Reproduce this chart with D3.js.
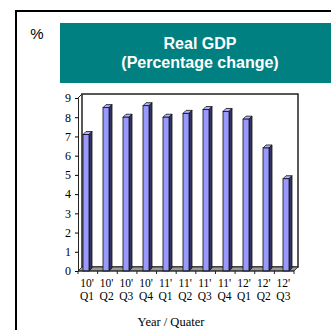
<!DOCTYPE html>
<meta charset="utf-8">
<style>
    body { margin: 0; background: #ffffff; }
    text.serif { font-family: "Liberation Serif", "Times New Roman", serif; fill: #000; }
    text.sans { font-family: "Liberation Sans", Arial, sans-serif; }
</style>
<body>
<div id="chart"></div>
<script src="https://d3js.org/d3.v7.min.js"></script>
<script>

    var years = ["10'", "10'", "10'", "10'", "11'", "11'", "11'", "11'", "12'", "12'", "12'"],
        quarters = ["Q1", "Q2", "Q3", "Q4", "Q1", "Q2", "Q3", "Q4", "Q1", "Q2", "Q3"],
        gdp = [7.1, 8.5, 8.0, 8.6, 8.0, 8.2, 8.4, 8.3, 7.9, 6.4, 4.8],
        yTicks = [0, 1, 2, 3, 4, 5, 6, 7, 8, 9];

    var svg_dx = 331, svg_dy = 330,
        depth = 4;

    var svg = d3.select("#chart")
                .append("svg")
                .attr("width", svg_dx)
                .attr("height", svg_dy);

    // outer frame (only top and left edges visible)
    svg.append("path")
       .attr("d", "M16,340 L16,11 L340,11")
       .attr("fill", "none")
       .attr("stroke", "#000")
       .attr("stroke-width", 2);

    svg.append("text")
       .attr("class", "sans")
       .attr("x", 37).attr("y", 39)
       .attr("text-anchor", "middle")
       .style("font-size", "15px")
       .text("%");

    // title banner
    svg.append("rect")
       .attr("x", 60).attr("y", 23)
       .attr("width", 280).attr("height", 60)
       .attr("fill", "#008080");

    svg.append("text")
       .attr("class", "sans")
       .attr("x", 200).attr("y", 49)
       .attr("text-anchor", "middle")
       .style("font-size", "16px").style("font-weight", "bold")
       .attr("fill", "#ffffff")
       .text("Real GDP");

    svg.append("text")
       .attr("class", "sans")
       .attr("x", 200).attr("y", 68)
       .attr("text-anchor", "middle")
       .style("font-size", "16px").style("font-weight", "bold")
       .attr("fill", "#ffffff")
       .text("(Percentage change)");

    var x = d3.scaleBand()
              .domain(d3.range(gdp.length))
              .range([78, 294])
              .paddingInner(0.7)
              .paddingOuter(0.25),
        y = d3.scaleLinear().domain([0, 9]).range([271, 98]);

    var g = svg.append("g");

    // back wall
    g.append("rect")
     .attr("x", 78 + depth).attr("y", y(9) - depth)
     .attr("width", 216).attr("height", y(0) - y(9))
     .attr("fill", "#ffffff")
     .attr("stroke", "#222")
     .attr("stroke-width", 1.5);

    // floor
    g.append("path")
     .attr("d", "M78," + y(0) + " L294," + y(0) + " L" + (294 + depth) + "," + (y(0) - depth) +
                " L" + (78 + depth) + "," + (y(0) - depth) + " Z")
     .attr("fill", "#9a9a9a")
     .attr("stroke", "#222")
     .attr("stroke-width", 0.8);

    // left side wall edge
    g.append("path")
     .attr("d", "M78," + y(9) + " L" + (78 + depth) + "," + (y(9) - depth))
     .attr("stroke", "#222").attr("fill", "none");

    // bars
    var bars = g.selectAll("g.bar")
                .data(gdp)
                .enter()
                .append("g")
                .attr("class", "bar");

    var bw = x.bandwidth(), d2 = 3;

    bars.append("path")   // top face
        .attr("d", (d, i) => {
            var x0 = x(i), y0 = y(d);
            return "M" + x0 + "," + y0 + " l" + d2 + "," + (-d2) + " l" + bw + ",0 l" + (-d2) + "," + d2 + " Z";
        })
        .attr("fill", "#b0b0ff").attr("stroke", "#111").attr("stroke-width", 0.8);

    bars.append("path")   // side face
        .attr("d", (d, i) => {
            var x0 = x(i) + bw, y0 = y(d);
            return "M" + x0 + "," + y0 + " l" + d2 + "," + (-d2) + " L" + (x0 + d2) + "," + (y(0) - d2) + " L" + x0 + "," + y(0) + " Z";
        })
        .attr("fill", "#333366").attr("stroke", "#111").attr("stroke-width", 0.8);

    bars.append("rect")   // front face
        .attr("x", (d, i) => x(i))
        .attr("y", d => y(d))
        .attr("width", bw)
        .attr("height", d => y(0) - y(d))
        .attr("fill", "#9999ff").attr("stroke", "#111").attr("stroke-width", 0.8);

    // y axis
    var axis_y = d3.axisLeft(y).tickValues(yTicks).tickSize(3).tickPadding(4);
    var gy = svg.append("g")
                .attr("transform", "translate(78,0)")
                .call(axis_y);
    gy.select(".domain").attr("stroke", "#222");
    gy.selectAll("text").attr("class", "serif").style("font-size", "12px");
    gy.attr("font-family", null).attr("font-size", null);

    // x axis
    var edges = d3.range(gdp.length + 1).map(i => 78 + i * 216 / gdp.length);
    svg.append("path")
       .attr("d", "M78," + y(0) + " L294," + y(0))
       .attr("stroke", "#222").attr("stroke-width", 1.2);
    svg.selectAll("line.xt")
       .data(edges)
       .enter().append("line")
       .attr("x1", d => d).attr("x2", d => d)
       .attr("y1", y(0)).attr("y2", y(0) + 3)
       .attr("stroke", "#222");

    var mid = (d, i) => (edges[i] + edges[i + 1]) / 2 - 0.8;

    svg.append("g").selectAll("text")
       .data(years)
       .enter().append("text")
       .attr("class", "serif")
       .attr("text-anchor", "middle")
       .style("font-size", "11.5px")
       .attr("x", mid)
       .attr("y", 287)
       .text(d => d);

    svg.append("g").selectAll("text")
       .data(quarters)
       .enter().append("text")
       .attr("class", "serif")
       .attr("text-anchor", "middle")
       .style("font-size", "11.5px")
       .attr("x", mid)
       .attr("y", 300)
       .text(d => d);

    svg.append("text")
       .attr("class", "serif")
       .attr("x", 171).attr("y", 326)
       .attr("text-anchor", "middle")
       .style("font-size", "12.5px")
       .text("Year / Quater");

</script>
</body>
